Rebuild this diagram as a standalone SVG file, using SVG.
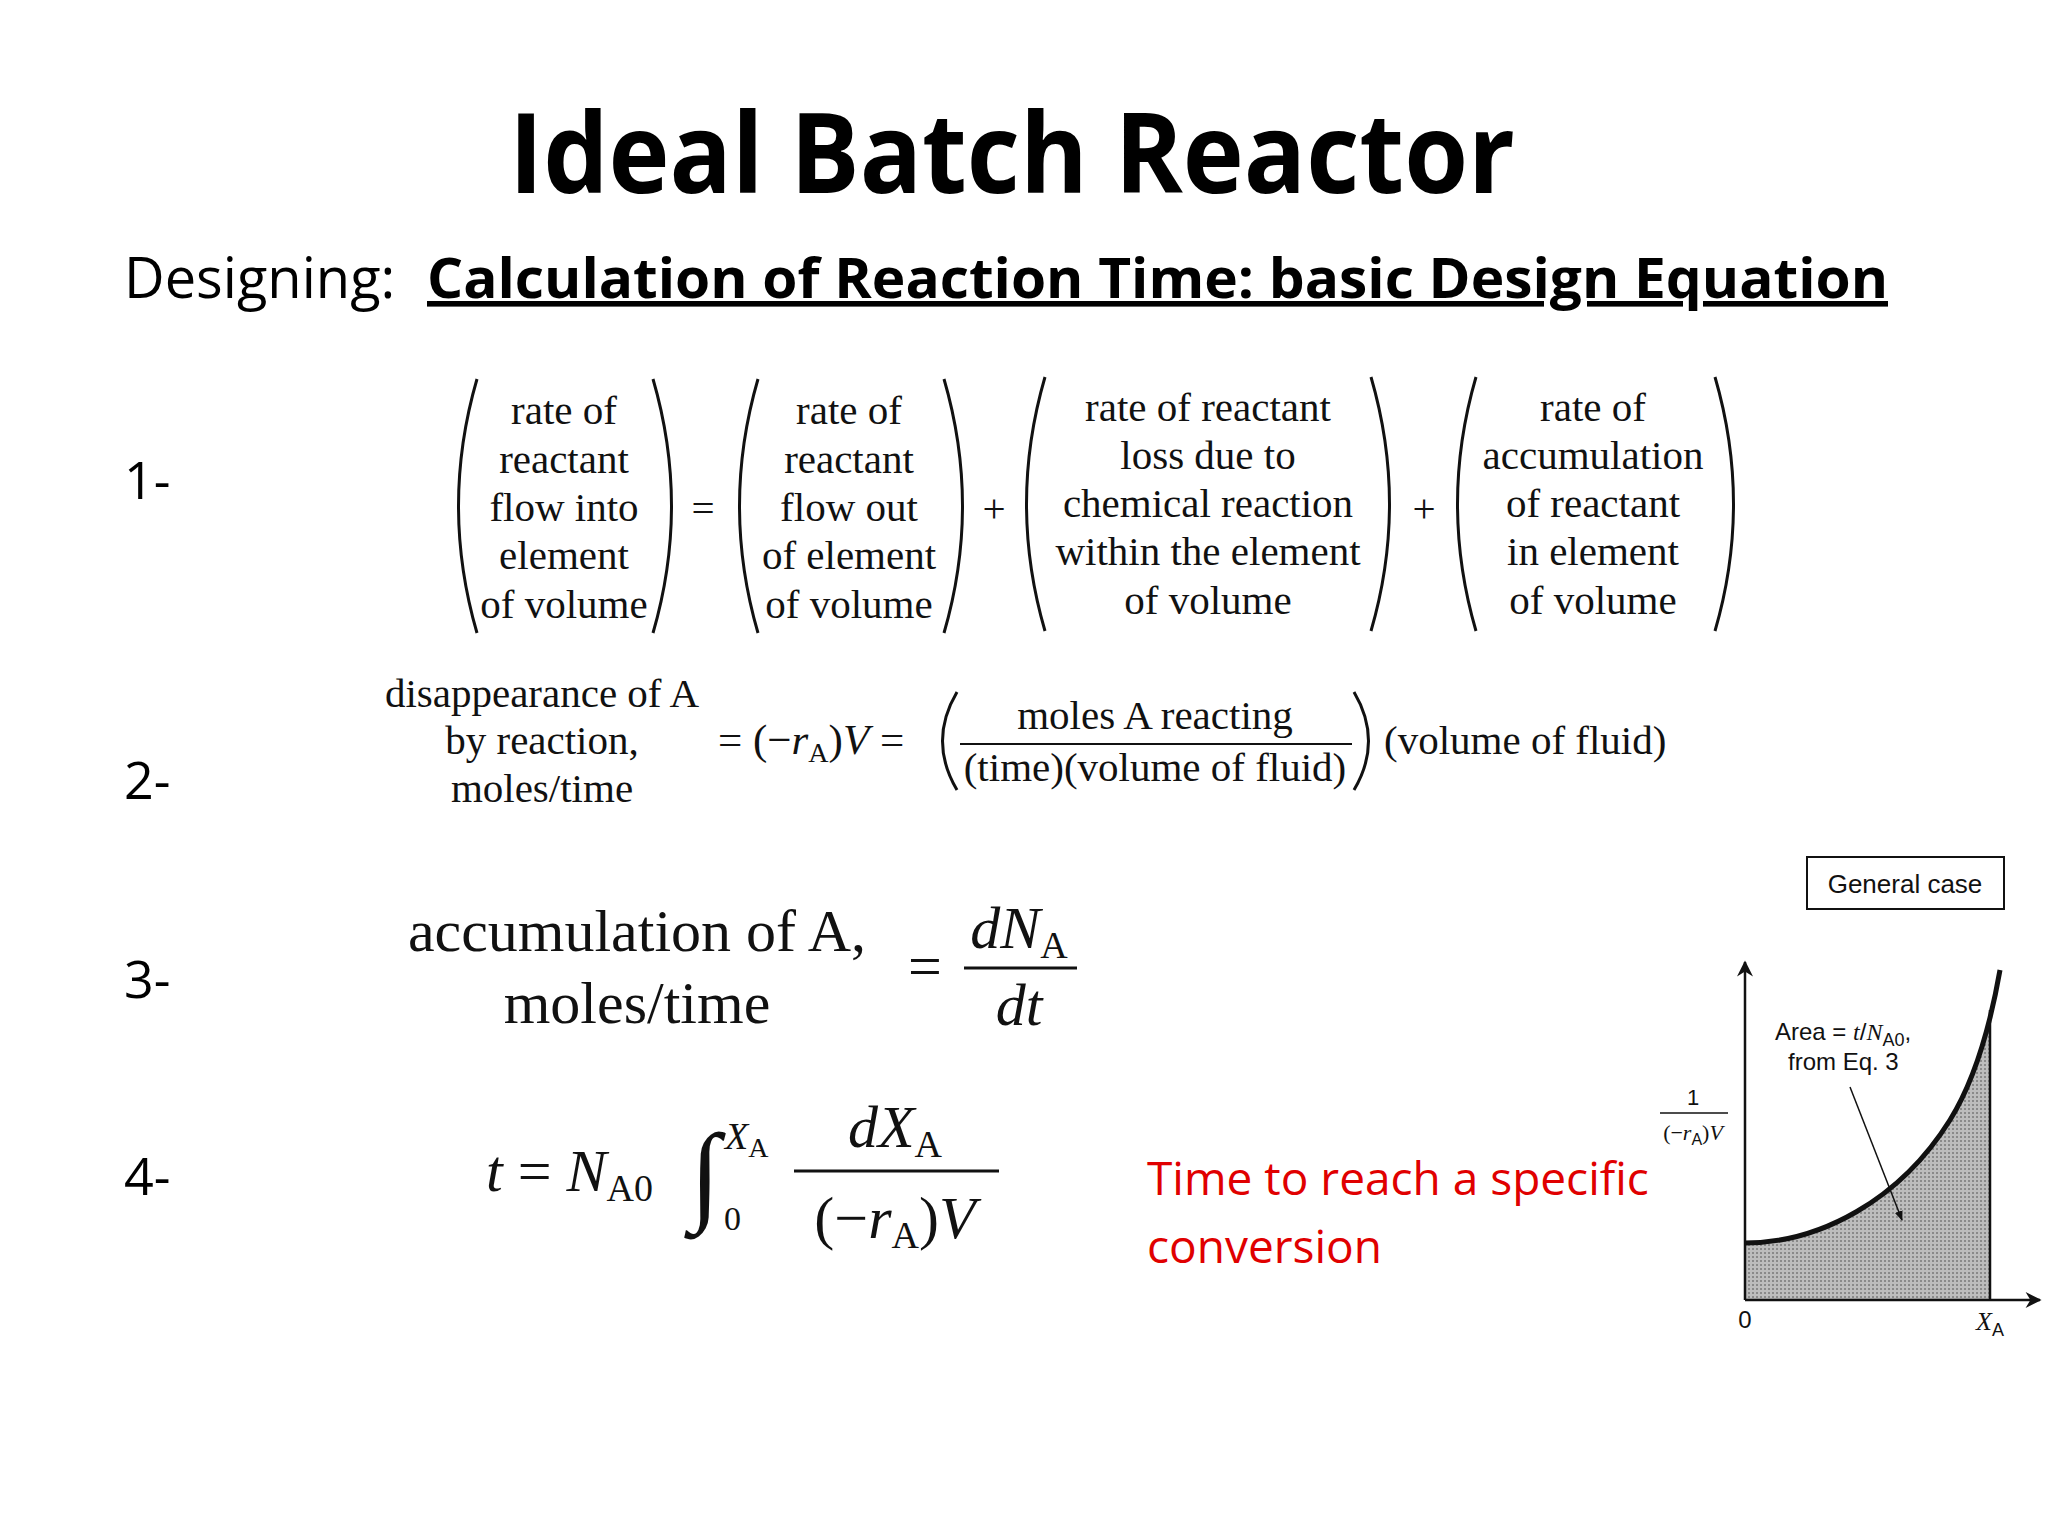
<svg xmlns="http://www.w3.org/2000/svg" width="2048" height="1536" viewBox="0 0 2048 1536">
<style>
.s{font-family:"Liberation Serif","Times New Roman",serif;fill:#111}
.c{text-anchor:middle}
.sans{font-family:"Open Sans","Liberation Sans",sans-serif;fill:#000}
.g{font-family:"Liberation Sans",Arial,sans-serif;fill:#111}
.p{fill:none;stroke:#111;stroke-width:3}
</style>
<defs>
<marker id="ah" viewBox="0 0 10 10" refX="9" refY="5" markerWidth="10" markerHeight="10" markerUnits="userSpaceOnUse" orient="auto"><path d="M0,1 L10,5 L0,9 z" fill="#111"/></marker>
<marker id="ax" viewBox="0 0 10 10" refX="9" refY="5" markerWidth="22" markerHeight="16" markerUnits="userSpaceOnUse" orient="auto"><path d="M0,0 L10,5 L0,10 L3,5 z" fill="#111"/></marker>
<pattern id="dots" width="4" height="4" patternUnits="userSpaceOnUse"><rect width="4" height="4" fill="#bdbdbd"/><rect width="2" height="2" fill="#8a8a8a"/></pattern>
</defs>
<rect width="2048" height="1536" fill="#fff"/>
<g id="title"><text class="sans c" x="1012" y="193" font-size="112" font-weight="700" textLength="1006" lengthAdjust="spacingAndGlyphs">Ideal Batch Reactor</text></g>
<g id="subtitle">
<text class="sans" x="124" y="298" font-size="56">Designing:</text>
<text class="sans" x="427" y="298" font-size="56" font-weight="700" text-decoration="underline" textLength="1461" lengthAdjust="spacingAndGlyphs">Calculation of Reaction Time: basic Design Equation</text>
</g>
<g id="labels" class="sans" font-size="52">
<text x="124" y="499">1-</text><text x="124" y="799">2-</text><text x="124" y="998">3-</text><text x="124" y="1195">4-</text>
</g>
<g id="eq1" class="s c" font-size="41">
<text x="564" y="424">rate of</text><text x="564" y="473">reactant</text><text x="564" y="521">flow into</text><text x="564" y="569">element</text><text x="564" y="618">of volume</text>
<text x="849" y="424">rate of</text><text x="849" y="473">reactant</text><text x="849" y="521">flow out</text><text x="849" y="569">of element</text><text x="849" y="618">of volume</text>
<text x="1208" y="421">rate of reactant</text><text x="1208" y="469">loss due to</text><text x="1208" y="517">chemical reaction</text><text x="1208" y="565">within the element</text><text x="1208" y="614">of volume</text>
<text x="1593" y="421">rate of</text><text x="1593" y="469">accumulation</text><text x="1593" y="517">of reactant</text><text x="1593" y="565">in element</text><text x="1593" y="614">of volume</text>
<text x="703" y="522">=</text><text x="994" y="522">+</text><text x="1424" y="522">+</text>
<path class="p" d="M477,379 Q440,506 477,633"/><path class="p" d="M653,379 Q690,506 653,633"/>
<path class="p" d="M758,379 Q721,506 758,633"/><path class="p" d="M944,379 Q981,506 944,633"/>
<path class="p" d="M1045,377 Q1008,504 1045,631"/><path class="p" d="M1371,377 Q1408,504 1371,631"/>
<path class="p" d="M1476,377 Q1439,504 1476,631"/><path class="p" d="M1715,377 Q1752,504 1715,631"/>
</g>
<g id="eq2" class="s" font-size="41">
<text class="c" x="542" y="707">disappearance of A</text><text class="c" x="542" y="754">by reaction,</text><text class="c" x="542" y="802">moles/time</text>
<text x="718" y="754" font-size="43">= (−<tspan font-style="italic">r</tspan><tspan font-size="28" dy="8">A</tspan><tspan dy="-8">)</tspan><tspan font-style="italic">V</tspan> =</text>
<path class="p" d="M957,692 Q928,741 957,790"/>
<text class="c" x="1155" y="729">moles A reacting</text>
<line x1="960" y1="744" x2="1352" y2="744" stroke="#111" stroke-width="2"/>
<text class="c" x="1155" y="781">(time)(volume of fluid)</text>
<path class="p" d="M1354,692 Q1383,741 1354,790"/>
<text x="1384" y="754">(volume of fluid)</text>
</g>
<g id="eq3" class="s" font-size="60">
<text class="c" x="637" y="951">accumulation of A,</text><text class="c" x="637" y="1023">moles/time</text>
<text class="c" x="925" y="986">=</text>
<text class="c" x="1019" y="948" font-style="italic">dN<tspan font-style="normal" font-size="38" dy="10">A</tspan></text>
<line x1="964" y1="968" x2="1077" y2="968" stroke="#111" stroke-width="3"/>
<text class="c" x="1019" y="1025" font-style="italic">dt</text>
</g>
<g id="eq4" class="s" font-size="60">
<text x="486" y="1191"><tspan font-style="italic">t</tspan> = <tspan font-style="italic">N</tspan><tspan font-size="38" dy="10">A0</tspan></text>
<text x="690" y="1210" font-size="110">∫</text>
<text x="725" y="1149" font-size="38" font-style="italic">X<tspan font-style="normal" font-size="28" dy="8">A</tspan></text>
<text x="724" y="1230" font-size="34">0</text>
<text class="c" x="895" y="1147" font-style="italic">dX<tspan font-style="normal" font-size="38" dy="10">A</tspan></text>
<line x1="794" y1="1171" x2="999" y2="1171" stroke="#111" stroke-width="3"/>
<text class="c" x="895" y="1238">(−<tspan font-style="italic">r</tspan><tspan font-size="38" dy="10">A</tspan><tspan dy="-10">)</tspan><tspan font-style="italic">V</tspan></text>
</g>
<g id="note" class="sans" font-size="46">
<text x="1147" y="1195" fill="#e00000">Time to reach a specific</text><text x="1147" y="1263" fill="#e00000">conversion</text>
</g>
<g id="graph">
<rect x="1807" y="857" width="197" height="52" fill="none" stroke="#111" stroke-width="2"/>
<text class="g c" x="1905" y="893" font-size="26">General case</text>
<path d="M1745,1243 C1820,1243 1900,1200 1950,1120 C1975,1080 1985,1040 1990,1010 L1990,1300 L1745,1300 Z" fill="url(#dots)"/>
<path d="M1745,1243 C1820,1243 1900,1200 1950,1120 C1978,1075 1993,1010 2000,970" fill="none" stroke="#111" stroke-width="5"/>
<line x1="1990" y1="1010" x2="1990" y2="1300" stroke="#111" stroke-width="2.5"/>
<line x1="1745" y1="1300" x2="1745" y2="962" stroke="#111" stroke-width="2.5" marker-end="url(#ax)"/>
<line x1="1745" y1="1300" x2="2040" y2="1300" stroke="#111" stroke-width="2.5" marker-end="url(#ax)"/>
<text class="g" x="1775" y="1040" font-size="24">Area = <tspan font-family="Liberation Serif" font-style="italic">t</tspan>/<tspan font-family="Liberation Serif" font-style="italic">N</tspan><tspan font-size="18" dy="6">A0</tspan><tspan dy="-6">,</tspan></text>
<text class="g" x="1788" y="1070" font-size="24">from Eq. 3</text>
<line x1="1850" y1="1087" x2="1902" y2="1220" stroke="#111" stroke-width="1.5" marker-end="url(#ah)"/>
<text class="g c" x="1693" y="1105" font-size="22">1</text>
<line x1="1660" y1="1113" x2="1728" y2="1113" stroke="#111" stroke-width="1.5"/>
<text class="s c" x="1693" y="1140" font-size="22">(−<tspan font-style="italic">r</tspan><tspan font-family="Liberation Sans" font-size="16" dy="5">A</tspan><tspan dy="-5">)</tspan><tspan font-style="italic">V</tspan></text>
<text class="g c" x="1745" y="1328" font-size="24">0</text>
<text class="s c" x="1990" y="1330" font-size="26" font-style="italic">X<tspan font-family="Liberation Sans" font-style="normal" font-size="18" dy="6">A</tspan></text>
</g>
</svg>
